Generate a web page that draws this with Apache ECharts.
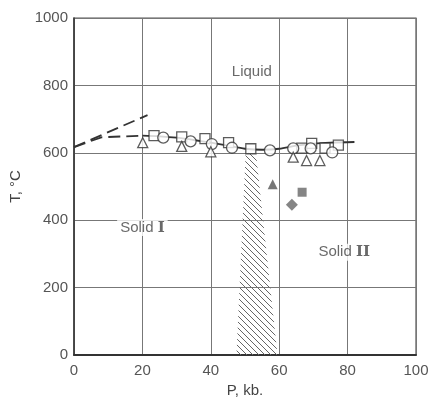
<!DOCTYPE html>
<html><head><meta charset="utf-8">
<script src="https://cdn.jsdelivr.net/npm/echarts@6/dist/echarts.min.js"></script>
<style>html,body{margin:0;padding:0;background:#fff}#c{width:432px;height:403px}</style>
</head><body><div id="c"></div>
<script>
// Data (P in kb, T in °C)
var xTicks = [0, 20, 40, 60, 80, 100];
var yTicks = [0, 200, 400, 600, 800, 1000];
var openSquares = [[23.4,651],[31.5,647],[38.3,642],[45.2,630],[51.7,612],[66.6,614],[69.5,628],[73.4,614],[77.3,623]];
var openCircles = [[26.1,645],[34.1,634],[40.3,626],[46.2,615],[57.3,607],[64.1,613],[69.2,613],[75.5,601]];
var openTriangles = [[20.1,630],[31.5,619],[40.0,603],[64.1,587],[68.0,577],[71.9,577]];
var filledTriangle = [[58.1,507]];
var filledDiamond = [[63.7,446]];
var filledSquare = [[66.7,483]];
var meltCurve = [[20,651],[25,649],[30,645],[35,638],[40,630],[45,621],[50,612],[55,609],[60,612],[65,621],[70,627],[75,630],[82,632]];
var dashUpper = [[0,617],[21.5,712]];
var dashLower = [[0,617],[8,646],[20,651]];
var hatchP = [50.2, 53.2, 59.5, 47.5];
var hatchT = [600, 600, 0, 0];
var regionLabels = [
  {name:'Liquid', value:[52,840]},
  {name:'Solid I', value:[20,378]},
  {name:'Solid II', value:[79,305]}
];

var pc = document.createElement('canvas');
pc.width = 6; pc.height = 6;
var g = pc.getContext('2d');
g.strokeStyle = '#666'; g.lineWidth = 1;
g.beginPath(); g.moveTo(-1,-1); g.lineTo(7,7); g.moveTo(-1,5); g.lineTo(1,7); g.moveTo(5,-1); g.lineTo(7,1); g.stroke();

var ink = '#333';
var chart = echarts.init(document.getElementById('c'), null, {renderer:'canvas'});
var openStyle = {color:'#fff', borderColor:ink, borderWidth:1.3};
chart.setOption({
  animation:false,
  backgroundColor:'#fff',
  grid:{left:74, right:16, top:18, bottom:44, show:true, borderColor:'#555', borderWidth:1.2},
  xAxis:{type:'value', min:0, max:100, interval:20,
    name:'P, kb.', nameLocation:'middle', nameGap:28,
    nameTextStyle:{color:'#444', fontSize:15, fontFamily:'Liberation Sans'},
    axisLine:{show:true, lineStyle:{color:'#333', width:2}},
    axisTick:{show:false},
    axisLabel:{color:'#555', fontSize:15, fontFamily:'Liberation Sans', margin:8,
      formatter:function(v){return xTicks.indexOf(v)>=0?String(v):'';}},
    splitLine:{show:true, lineStyle:{color:'#777', width:1}}},
  yAxis:{type:'value', min:0, max:1000, interval:200,
    name:'T, °C', nameLocation:'middle', nameGap:48, nameRotate:90,
    nameTextStyle:{color:'#444', fontSize:15, fontFamily:'Liberation Sans'},
    axisLine:{show:true, lineStyle:{color:'#333', width:1.5}},
    axisTick:{show:false},
    axisLabel:{color:'#555', fontSize:15, fontFamily:'Liberation Sans', margin:6,
      formatter:function(v){return yTicks.indexOf(v)>=0?String(v):'';}},
    splitLine:{show:true, lineStyle:{color:'#777', width:1}}},
  series:[
    {type:'custom', z:1, data:[0], renderItem:function(params, api){
      var pts = hatchP.map(function(p,i){return api.coord([p, hatchT[i]]);});
      return {type:'polygon', shape:{points:pts}, style:{fill:{image:pc, repeat:'repeat'}, stroke:null}};
    }},
    {type:'line', data:dashUpper, symbol:'none', z:3, lineStyle:{color:ink, width:1.8, type:[12,6]}},
    {type:'line', data:dashLower, symbol:'none', z:3, lineStyle:{color:ink, width:1.8, type:[12,6]}},
    {type:'line', data:meltCurve, symbol:'none', smooth:0.3, z:3, lineStyle:{color:ink, width:1.8}},
    {type:'scatter', data:openSquares, symbol:'rect', symbolSize:10, z:5, itemStyle:openStyle},
    {type:'scatter', data:openCircles, symbol:'circle', symbolSize:11, z:5, itemStyle:openStyle},
    {type:'scatter', data:openTriangles, symbol:'triangle', symbolSize:10, z:5, itemStyle:openStyle},
    {type:'scatter', data:filledTriangle, symbol:'triangle', symbolSize:10, z:5, itemStyle:{color:'#555'}},
    {type:'scatter', data:filledDiamond, symbol:'diamond', symbolSize:12, z:5, itemStyle:{color:'#666'}},
    {type:'scatter', data:filledSquare, symbol:'rect', symbolSize:9, z:5, itemStyle:{color:'#666'}},
    {type:'scatter', data:regionLabels, symbolSize:0, z:6,
      label:{show:true, position:'inside', color:'#444', fontSize:15, fontFamily:'Liberation Sans',
        backgroundColor:'#fff', padding:[1,3],
        formatter:function(p){
          if(p.name==='Solid I') return 'Solid {r|I}';
          if(p.name==='Solid II') return 'Solid {r|II}';
          return p.name;
        },
        rich:{r:{fontFamily:'DejaVu Serif', fontWeight:'bold', fontSize:15, color:'#444'}}}}
  ]
});
</script></body></html>
